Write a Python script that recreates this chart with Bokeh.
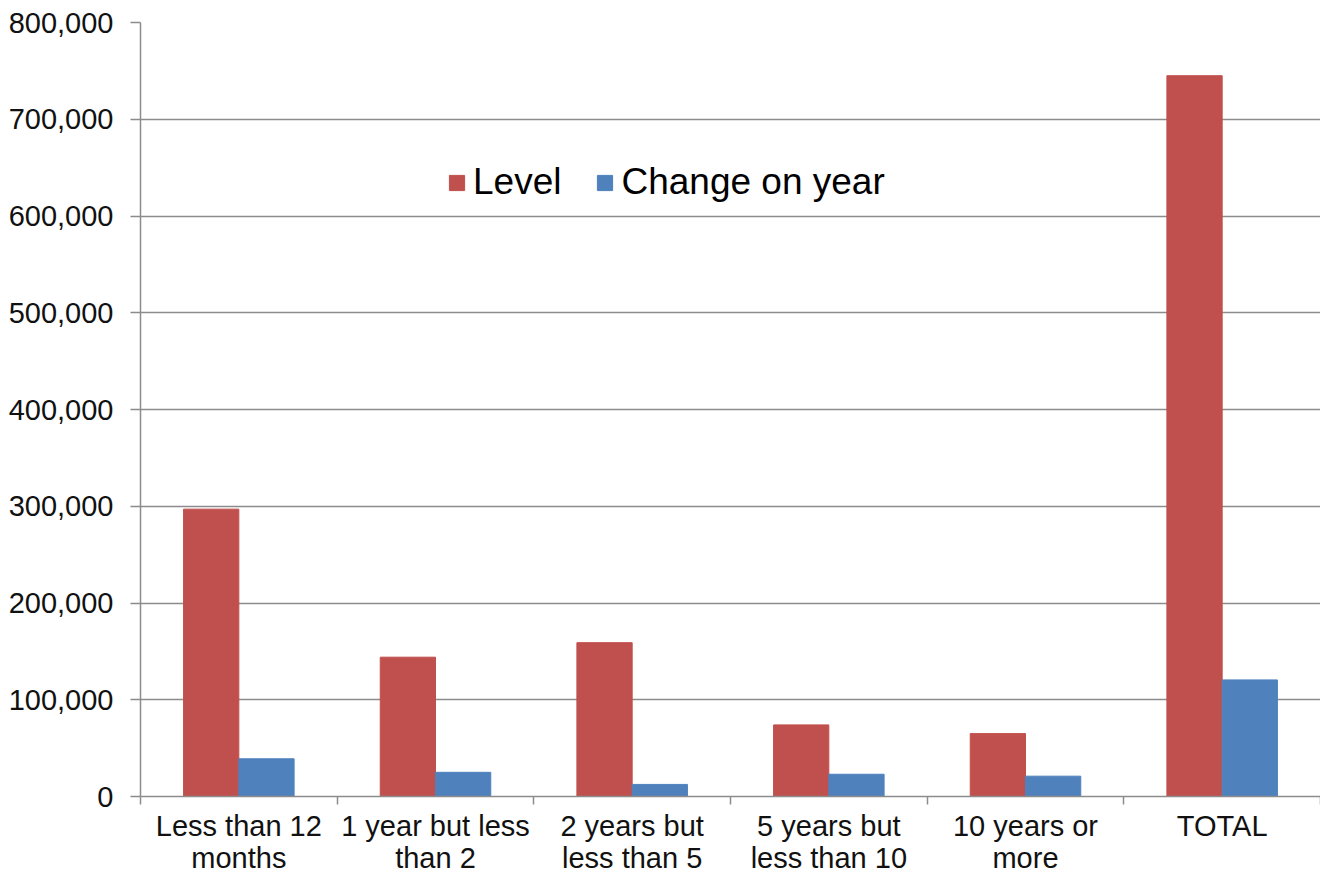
from bokeh.plotting import figure
from bokeh.models import Range1d, FixedTicker, NumeralTickFormatter, Legend, LegendItem, ColumnDataSource
from bokeh.embed import file_html
from bokeh.resources import INLINE

categories = ["Less than 12\nmonths", "1 year but less\nthan 2", "2 years but\nless than 5",
              "5 years but\nless than 10", "10 years or\nmore", "TOTAL"]
level = [297000, 144000, 159000, 74000, 65000, 745000]
change = [39000, 25000, 12500, 23000, 21000, 120500]
y_ticks = [0, 100000, 200000, 300000, 400000, 500000, 600000, 700000, 800000]
series_names = ["Level", "Change on year"]
colors = ["#C0504D", "#4F81BD"]

FONT = "Liberation Sans"
GRID = "#8C8C8C"

n = len(categories)
centers = [i + 0.5 for i in range(n)]
bar_w = 0.281

src = ColumnDataSource(dict(
    x_level=[c - bar_w / 2 for c in centers],
    x_change=[c + bar_w / 2 for c in centers],
    level=level,
    change=change,
))

p = figure(width=1320, height=876, x_range=Range1d(0, n), y_range=Range1d(0, y_ticks[-1]),
           output_backend="svg", toolbar_location=None, tools="",
           min_border_left=140, min_border_right=0, min_border_top=22, min_border_bottom=70)
p.outline_line_color = None
p.background_fill_color = "white"
p.border_fill_color = "white"

r1 = p.vbar(x="x_level", top="level", width=bar_w, bottom=0, source=src,
            fill_color=colors[0], line_color=colors[0])
r2 = p.vbar(x="x_change", top="change", width=bar_w, bottom=0, source=src,
            fill_color=colors[1], line_color=colors[1])

# y axis
yax = p.yaxis[0]
yax.ticker = FixedTicker(ticks=y_ticks, minor_ticks=[])
yax.formatter = NumeralTickFormatter(format="0,0")
yax.axis_line_color = GRID
yax.axis_line_width = 1.5
yax.major_tick_line_color = GRID
yax.major_tick_line_width = 1.5
yax.major_tick_out = 10
yax.major_tick_in = 0
yax.minor_tick_line_color = None
yax.major_label_text_font = FONT
yax.major_label_text_font_size = "29px"
yax.major_label_text_color = "#111111"
yax.major_label_standoff = 17

# x axis
xax = p.xaxis[0]
xax.ticker = FixedTicker(ticks=centers, minor_ticks=list(range(n + 1)))
xax.major_label_overrides = {c: lab for c, lab in zip(centers, categories)}
xax.axis_line_color = GRID
xax.axis_line_width = 1.5
xax.major_tick_line_color = None
xax.major_tick_out = 0
xax.major_tick_in = 0
xax.minor_tick_line_color = GRID
xax.minor_tick_line_width = 1.5
xax.minor_tick_out = 8
xax.minor_tick_in = 0
xax.major_label_text_font = FONT
xax.major_label_text_font_size = "29px"
xax.major_label_text_line_height = 1.0
xax.major_label_text_color = "#111111"
xax.major_label_standoff = 5

p.xgrid.grid_line_color = None
p.ygrid.ticker = FixedTicker(ticks=y_ticks)
p.ygrid.grid_line_color = GRID
p.ygrid.grid_line_width = 1.5

legend = Legend(items=[LegendItem(label=series_names[0], renderers=[r1]),
                       LegendItem(label=series_names[1], renderers=[r2])],
                orientation="horizontal", location=(307, 593))
legend.label_text_font = FONT
legend.label_text_font_size = "37px"
legend.label_text_color = "#000000"
legend.glyph_width = 19
legend.glyph_height = 19
legend.label_standoff = 7
legend.spacing = 34
legend.padding = 0
legend.margin = 0
legend.background_fill_alpha = 0
legend.border_line_color = None
p.add_layout(legend, "center")

open("out.html", "w").write(file_html(p, INLINE))
